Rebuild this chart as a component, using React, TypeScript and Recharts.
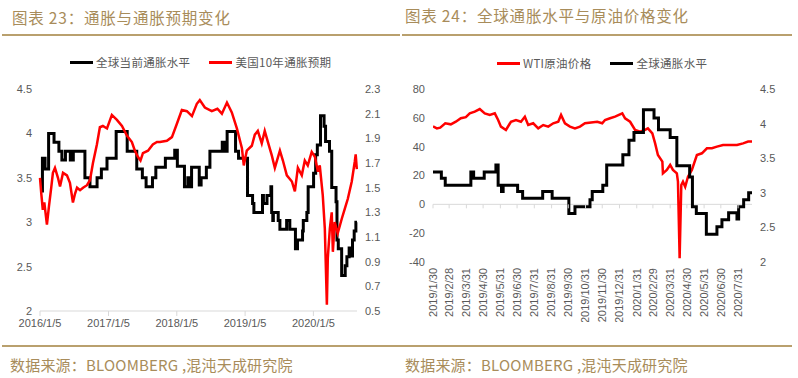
import { LineChart, Line, XAxis, YAxis, ReferenceLine } from 'recharts';

// 全球当前通胀水平 (%), monthly step series: [change date, value]
const globalInflation: [string, number][] = [
  ['2016-01-05', 3.35], ['2016-01-18', 3.72], ['2016-02-01', 3.6], ['2016-02-20', 4.0],
  ['2016-03-20', 3.9], ['2016-04-15', 3.8], ['2016-05-01', 3.7], ['2016-05-20', 3.8],
  ['2016-06-15', 3.7], ['2016-07-01', 3.8], ['2016-09-01', 3.5], ['2016-09-28', 3.4],
  ['2016-11-05', 3.5], ['2016-11-28', 3.6], ['2016-12-28', 3.72], ['2017-02-15', 4.02],
  ['2017-04-15', 3.8], ['2017-06-05', 3.6], ['2017-07-05', 3.5], ['2017-07-25', 3.4],
  ['2017-08-28', 3.5], ['2017-09-15', 3.62], ['2017-11-05', 3.72], ['2017-12-25', 3.81],
  ['2018-01-08', 3.63], ['2018-02-15', 3.4], ['2018-03-05', 3.5], ['2018-03-12', 3.4],
  ['2018-03-25', 3.62], ['2018-05-05', 3.42], ['2018-05-15', 3.5], ['2018-06-12', 3.62],
  ['2018-07-01', 3.8], ['2018-09-05', 3.9], ['2018-09-15', 3.8], ['2018-10-01', 4.02],
  ['2018-11-15', 3.8], ['2018-12-01', 3.72], ['2019-01-18', 3.3], ['2019-02-14', 3.21],
  ['2019-02-21', 3.11], ['2019-04-08', 3.3], ['2019-04-13', 3.21], ['2019-05-02', 3.3],
  ['2019-05-23', 3.4], ['2019-05-27', 3.11], ['2019-06-02', 3.02], ['2019-06-05', 3.11],
  ['2019-07-01', 3.02], ['2019-07-10', 2.92], ['2019-08-15', 3.02], ['2019-09-01', 2.92],
  ['2019-10-01', 2.7], ['2019-10-12', 2.8], ['2019-11-08', 2.9], ['2019-11-12', 3.02],
  ['2019-12-01', 3.11], ['2019-12-08', 3.4], ['2020-01-06', 3.55], ['2020-01-17', 3.76],
  ['2020-01-26', 3.87], ['2020-02-12', 4.2], ['2020-03-02', 4.08], ['2020-03-10', 3.91],
  ['2020-03-31', 3.8], ['2020-04-12', 3.39], ['2020-05-05', 3.23], ['2020-05-10', 2.8],
  ['2020-05-17', 2.7], ['2020-06-04', 2.4], ['2020-06-23', 2.51], ['2020-07-02', 2.61],
  ['2020-07-14', 2.71], ['2020-07-29', 2.62], ['2020-08-01', 2.8], ['2020-08-10', 2.9],
  ['2020-08-19', 3.0], ['2020-08-25', 3.0],
];

// 美国10年通胀预期 (%)
const usBreakeven10y: [string, number][] = [
  ['2016-01-05', 1.58], ['2016-01-12', 1.45], ['2016-01-20', 1.32], ['2016-01-28', 1.38],
  ['2016-02-11', 1.2], ['2016-02-22', 1.35], ['2016-03-05', 1.5], ['2016-03-14', 1.62],
  ['2016-03-25', 1.66], ['2016-04-10', 1.58], ['2016-04-21', 1.51], ['2016-05-07', 1.62],
  ['2016-05-28', 1.6], ['2016-06-13', 1.54], ['2016-06-29', 1.38], ['2016-07-10', 1.45],
  ['2016-07-21', 1.5], ['2016-08-06', 1.48], ['2016-08-22', 1.5], ['2016-09-12', 1.52],
  ['2016-09-28', 1.56], ['2016-10-14', 1.7], ['2016-11-04', 1.85], ['2016-11-20', 1.99],
  ['2016-12-06', 2.0], ['2016-12-28', 1.98], ['2017-01-23', 2.09], ['2017-02-19', 2.05],
  ['2017-03-18', 2.0], ['2017-04-14', 1.92], ['2017-05-10', 1.87], ['2017-05-26', 1.8],
  ['2017-06-11', 1.75], ['2017-06-25', 1.72], ['2017-07-08', 1.78], ['2017-08-04', 1.8],
  ['2017-08-30', 1.85], ['2017-09-21', 1.87], ['2017-10-07', 1.87], ['2017-11-13', 1.88],
  ['2017-12-10', 1.91], ['2018-01-06', 2.02], ['2018-02-01', 2.13], ['2018-02-28', 2.12],
  ['2018-03-27', 2.08], ['2018-04-22', 2.18], ['2018-05-08', 2.21], ['2018-06-04', 2.15],
  ['2018-07-11', 2.12], ['2018-08-10', 2.14], ['2018-09-03', 2.1], ['2018-09-30', 2.19],
  ['2018-10-26', 2.11], ['2018-11-22', 1.98], ['2018-12-19', 1.82], ['2018-12-29', 1.68],
  ['2019-01-14', 1.8], ['2019-02-10', 1.84], ['2019-02-26', 1.93], ['2019-03-14', 1.96],
  ['2019-04-04', 1.86], ['2019-04-20', 1.96], ['2019-05-07', 1.87], ['2019-05-28', 1.76],
  ['2019-06-13', 1.66], ['2019-07-10', 1.8], ['2019-07-26', 1.72], ['2019-08-16', 1.6],
  ['2019-09-12', 1.55], ['2019-09-28', 1.47], ['2019-10-14', 1.66], ['2019-11-04', 1.6],
  ['2019-11-20', 1.72], ['2019-12-06', 1.68], ['2019-12-27', 1.79], ['2020-01-13', 1.75],
  ['2020-01-29', 1.63], ['2020-02-08', 1.68], ['2020-02-24', 1.44], ['2020-03-06', 1.17],
  ['2020-03-17', 0.55], ['2020-03-22', 0.93], ['2020-04-02', 1.17], ['2020-04-12', 1.3],
  ['2020-04-18', 0.98], ['2020-04-28', 1.22], ['2020-05-14', 1.13], ['2020-06-05', 1.25],
  ['2020-06-21', 1.33], ['2020-07-07', 1.41], ['2020-07-28', 1.55], ['2020-08-13', 1.71],
  ['2020-08-18', 1.77], ['2020-08-24', 1.65],
];

// WTI原油价格 (美元/桶)
const wtiPrice: [string, number][] = [
  ['2019-01-30', 54.0], ['2019-02-06', 52.7], ['2019-02-12', 53.2], ['2019-02-21', 56.2],
  ['2019-03-03', 55.5], ['2019-03-12', 57.3], ['2019-03-21', 59.7], ['2019-03-30', 60.5],
  ['2019-04-06', 63.1], ['2019-04-15', 64.3], ['2019-04-24', 66.1], ['2019-05-03', 63.1],
  ['2019-05-12', 62.0], ['2019-05-21', 63.1], ['2019-05-27', 58.5], ['2019-06-01', 53.9],
  ['2019-06-10', 51.6], ['2019-06-19', 57.3], ['2019-06-28', 58.5], ['2019-07-07', 57.3],
  ['2019-07-14', 60.8], ['2019-07-20', 55.0], ['2019-07-29', 56.2], ['2019-08-07', 52.7],
  ['2019-08-16', 55.0], ['2019-08-25', 53.9], ['2019-09-03', 56.2], ['2019-09-12', 57.3],
  ['2019-09-17', 62.0], ['2019-09-24', 56.2], ['2019-10-03', 53.9], ['2019-10-12', 52.7],
  ['2019-10-21', 53.9], ['2019-10-30', 56.2], ['2019-11-10', 56.8], ['2019-11-21', 57.3],
  ['2019-11-30', 56.2], ['2019-12-05', 58.5], ['2019-12-14', 59.7], ['2019-12-23', 60.8],
  ['2020-01-05', 63.1], ['2020-01-10', 59.7], ['2020-01-19', 57.3], ['2020-01-28', 51.6],
  ['2020-02-06', 50.4], ['2020-02-15', 51.6], ['2020-02-20', 52.7], ['2020-02-28', 49.2],
  ['2020-03-04', 42.3], ['2020-03-09', 34.2], ['2020-03-17', 29.6], ['2020-03-18', 21.5],
  ['2020-03-25', 23.9], ['2020-03-31', 27.3], ['2020-04-05', 23.9], ['2020-04-12', 21.5],
  ['2020-04-14', 15.7], ['2020-04-17', -37.3], ['2020-04-20', 13.4], ['2020-04-23', 15.7],
  ['2020-04-27', 12.2], ['2020-05-02', 19.2], ['2020-05-09', 23.9], ['2020-05-18', 34.2],
  ['2020-05-27', 35.4], ['2020-06-05', 38.9], ['2020-06-14', 38.9], ['2020-06-23', 40.0],
  ['2020-07-04', 41.2], ['2020-07-17', 41.2], ['2020-07-29', 41.2], ['2020-08-09', 42.3],
  ['2020-08-18', 43.5], ['2020-08-25', 43.5],
];

const leftDateTicks = ['2016/1/5', '2017/1/5', '2018/1/5', '2019/1/5', '2020/1/5'];
const rightDateTicks = [
  '2019/1/30', '2019/2/28', '2019/3/31', '2019/4/30', '2019/5/31', '2019/6/30', '2019/7/31',
  '2019/8/31', '2019/9/30', '2019/10/31', '2019/11/30', '2019/12/31', '2020/1/31', '2020/2/29',
  '2020/3/31', '2020/4/30', '2020/5/31', '2020/6/30', '2020/7/31',
];
const leftInflationTicks = [2, 2.5, 3, 3.5, 4, 4.5];
const leftBreakevenTicks = [0.5, 0.7, 0.9, 1.1, 1.3, 1.5, 1.7, 1.9, 2.1, 2.3];
const rightWtiTicks = [-40, -20, 0, 20, 40, 60, 80];
const rightInflationTicks = [2, 2.5, 3, 3.5, 4, 4.5];

const GOLD = '#a88c5a';
const RULE = '#b9a06e';
const AXIS_TEXT = '#595959';
const CJK = '"Noto Sans CJK SC", "Noto Sans", sans-serif';
const LATIN = '"Liberation Sans", Arial, sans-serif';

const toTs = (s: string) => {
  const [y, m, d] = s.split(/[-/]/).map(Number);
  return Date.UTC(y, m - 1, d);
};
const toRows = (arr: [string, number][]) => arr.map(([d, v]) => ({ t: toTs(d), v }));

const leftTickValues = leftDateTicks.map(toTs);
const rightTickValues = rightDateTicks.map(toTs);

const leftSeries = [
  { name: '全球当前通胀水平', color: '#000000', rows: toRows(globalInflation), axis: 'left', step: true },
  { name: '美国10年通胀预期', color: '#ff0000', rows: toRows(usBreakeven10y), axis: 'right', step: false },
];
const rightSeries = [
  { name: 'WTI原油价格', color: '#ff0000', rows: toRows(wtiPrice), axis: 'left', step: false },
  { name: '全球通胀水平', color: '#000000', rows: toRows(globalInflation), axis: 'right', step: true },
];

// right panel geometry (used to put the small ticks on the zero line)
const R_TOP = 89;
const R_PLOT_H = 173;
const R_ZERO_Y = R_TOP + R_PLOT_H * (80 / 120);

const tickStyle = { fill: AXIS_TEXT, fontSize: 11, fontFamily: LATIN };

function Legend({ items, left, top }: { items: { name: string; color: string }[]; left: number; top: number }) {
  return (
    <div style={{ position: 'absolute', left, top, display: 'flex', alignItems: 'center', gap: 19 }}>
      {items.map((s) => (
        <div key={s.name} style={{ display: 'flex', alignItems: 'center' }}>
          <span style={{ width: 23, height: 3, background: s.color, display: 'inline-block', marginRight: 3 }} />
          <span style={{ fontFamily: CJK, fontSize: 11.5, letterSpacing: 0.3, color: AXIS_TEXT, lineHeight: '14px' }}>
            {s.name}
          </span>
        </div>
      ))}
    </div>
  );
}

function RotatedDateTick(props: any) {
  const { x, y, payload } = props;
  const label = rightDateTicks[rightTickValues.indexOf(payload.value)];
  return (
    <g>
      <line x1={x} x2={x} y1={R_ZERO_Y} y2={R_ZERO_Y + 4} stroke="#d9d9d9" />
      <text
        x={x}
        y={y}
        dy="0.35em"
        transform={`rotate(-90, ${x}, ${y})`}
        textAnchor="end"
        fill={AXIS_TEXT}
        fontSize={11}
        fontFamily={LATIN}
      >
        {label}
      </text>
    </g>
  );
}

export default function App() {
  return (
    <div style={{ position: 'absolute', left: 0, top: 0, width: 798, height: 378, background: '#fff', overflow: 'hidden' }}>
      <div style={{ position: 'absolute', left: 12, top: 6, fontFamily: CJK, fontSize: 15.5, letterSpacing: 0.8, color: GOLD, lineHeight: '22px' }}>
        图表 23：通胀与通胀预期变化
      </div>
      <div style={{ position: 'absolute', left: 405, top: 4, fontFamily: CJK, fontSize: 15.5, letterSpacing: 0.8, color: GOLD, lineHeight: '22px' }}>
        图表 24：全球通胀水平与原油价格变化
      </div>
      <div style={{ position: 'absolute', left: 2, top: 34, width: 398, height: 2, background: RULE }} />
      <div style={{ position: 'absolute', left: 402, top: 34, width: 390, height: 2, background: RULE }} />

      <Legend items={leftSeries} left={70} top={55} />
      <Legend items={rightSeries} left={497} top={56} />

      <div style={{ position: 'absolute', left: 0, top: 0 }}>
        <LineChart width={400} height={345} margin={{ top: 89, right: 3, bottom: 14, left: 0 }}>
          <XAxis
            dataKey="t"
            type="number"
            domain={[toTs('2016-01-05'), toTs('2020-08-24')]}
            ticks={leftTickValues}
            interval={0}
            tickFormatter={(v: number) => leftDateTicks[leftTickValues.indexOf(v)]}
            height={20}
            axisLine={{ stroke: '#d9d9d9' }}
            tickLine={{ stroke: '#d9d9d9' }}
            tickSize={5}
            tickMargin={3}
            tick={tickStyle}
          />
          <YAxis
            yAxisId="left"
            domain={[2, 4.5]}
            ticks={leftInflationTicks}
            width={40}
            axisLine={false}
            tickLine={false}
            tick={tickStyle}
          />
          <YAxis
            yAxisId="right"
            orientation="right"
            domain={[0.5, 2.3]}
            ticks={leftBreakevenTicks}
            width={40}
            axisLine={false}
            tickLine={false}
            tick={tickStyle}
          />
          {leftSeries.map((s) => (
            <Line
              key={s.name}
              name={s.name}
              data={s.rows}
              dataKey="v"
              yAxisId={s.axis}
              type={s.step ? 'stepAfter' : 'linear'}
              stroke={s.color}
              strokeWidth={s.step ? 3 : 2.5}
              dot={false}
              activeDot={false}
              isAnimationActive={false}
            />
          ))}
        </LineChart>
      </div>

      <div style={{ position: 'absolute', left: 400, top: 0 }}>
        <LineChart width={398} height={322} margin={{ top: R_TOP, right: 6, bottom: 0, left: 0 }}>
          <XAxis
            dataKey="t"
            type="number"
            domain={[toTs('2019-01-30'), toTs('2020-08-25')]}
            allowDataOverflow
            ticks={rightTickValues}
            interval={0}
            height={60}
            axisLine={false}
            tickLine={false}
            tickSize={0}
            tickMargin={6}
            tick={<RotatedDateTick />}
          />
          <YAxis
            yAxisId="left"
            domain={[-40, 80]}
            ticks={rightWtiTicks}
            width={33}
            axisLine={false}
            tickLine={false}
            tick={tickStyle}
          />
          <YAxis
            yAxisId="right"
            orientation="right"
            domain={[2, 4.5]}
            ticks={rightInflationTicks}
            width={40}
            axisLine={false}
            tickLine={false}
            tick={tickStyle}
          />
          <ReferenceLine yAxisId="left" y={0} stroke="#d9d9d9" />
          {rightSeries.map((s) => (
            <Line
              key={s.name}
              name={s.name}
              data={s.rows}
              dataKey="v"
              yAxisId={s.axis}
              type={s.step ? 'stepAfter' : 'linear'}
              stroke={s.color}
              strokeWidth={s.step ? 3 : 2.5}
              dot={false}
              activeDot={false}
              isAnimationActive={false}
            />
          ))}
        </LineChart>
      </div>

      <div style={{ position: 'absolute', left: 2, top: 345, width: 790, height: 2, background: RULE }} />
      <div style={{ position: 'absolute', left: 10, top: 354, fontFamily: CJK, fontSize: 15, letterSpacing: 0.2, color: GOLD, lineHeight: '22px' }}>
        数据来源：BLOOMBERG ,混沌天成研究院
      </div>
      <div style={{ position: 'absolute', left: 405, top: 354, fontFamily: CJK, fontSize: 15, letterSpacing: 0.2, color: GOLD, lineHeight: '22px' }}>
        数据来源：BLOOMBERG ,混沌天成研究院
      </div>
    </div>
  );
}
